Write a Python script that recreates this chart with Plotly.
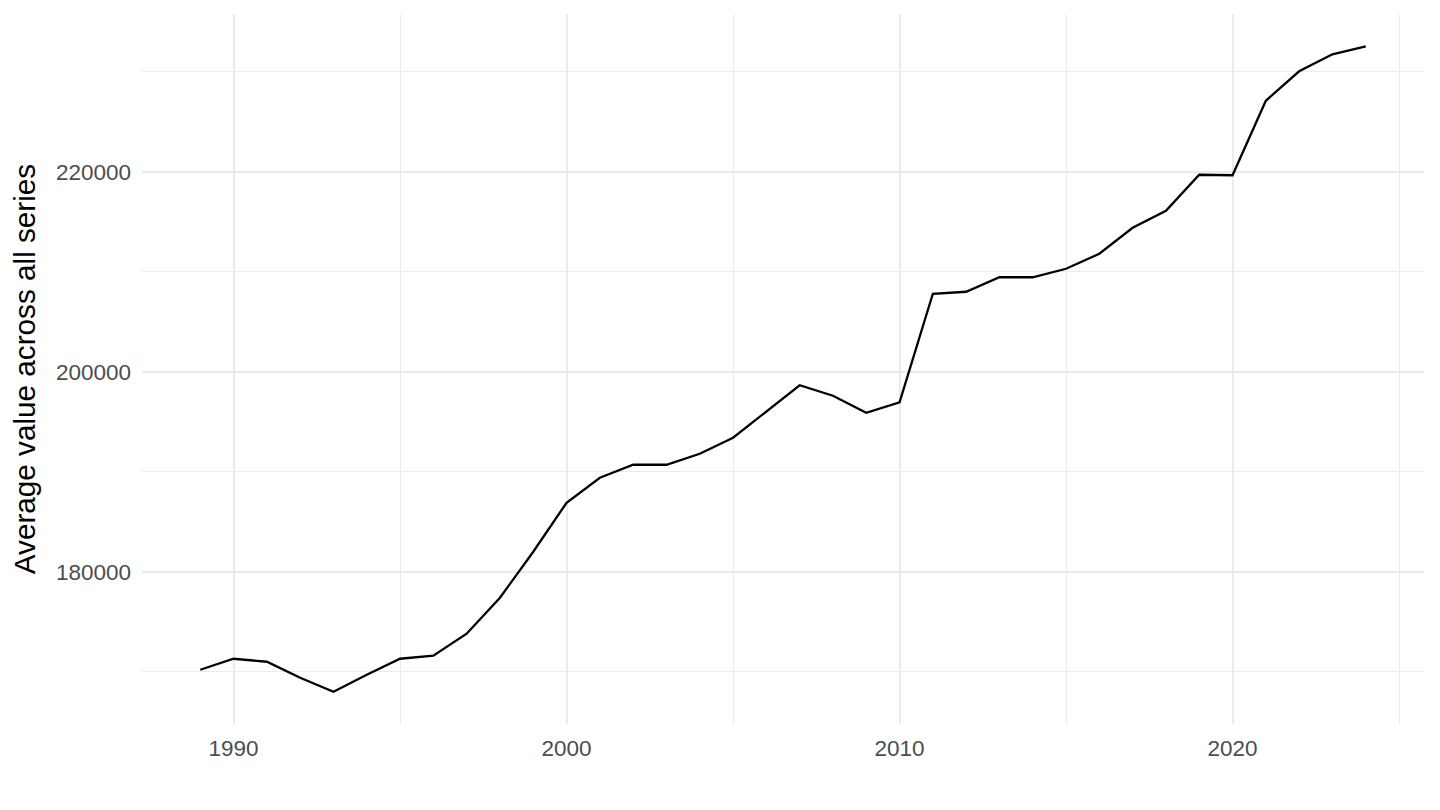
import plotly.graph_objects as go

# Average value across all series, by year
years = list(range(1989, 2025))
avg_value = [
    170200, 171300, 171000, 169400, 168000, 169700, 171300, 171600, 173800, 177400,
    182000, 186900, 189400, 190700, 190700, 191800, 193400, 196000, 198650, 197600,
    195900, 196950, 207800, 208000, 209450, 209450, 210300, 211800, 214400, 216100,
    219700, 219650, 227100, 230050, 231750, 232550,
]

x_major = [1990, 2000, 2010, 2020]
x_minor = [1995, 2005, 2015, 2025]
y_major = [180000, 200000, 220000]
y_minor = [170000, 190000, 210000, 230000]

# ggplot-style 5% expansion around the data
def expand(vals, mult=0.05):
    lo, hi = min(vals), max(vals)
    pad = (hi - lo) * mult
    return [lo - pad, hi + pad]

grid_col = "#EBEBEB"
font_fam = "Liberation Sans, Arial, sans-serif"

fig = go.Figure()
fig.add_trace(go.Scatter(
    x=years,
    y=avg_value,
    mode="lines",
    line=dict(color="black", width=2.3),
    showlegend=False,
))

# page body adds an 8px offset, so the figure is 16px smaller than the window
fig.update_layout(
    width=1424,
    height=794,
    paper_bgcolor="white",
    plot_bgcolor="white",
    margin=dict(l=134, r=8, t=6, b=78),
    font=dict(family=font_fam),
    xaxis=dict(
        range=expand(years),
        tickvals=x_major,
        ticktext=[str(v) for v in x_major],
        showgrid=True,
        gridcolor=grid_col,
        gridwidth=2,
        zeroline=False,
        showline=False,
        ticks="",
        ticklabelstandoff=8,
        tickfont=dict(size=22.5, color="#4D4D4D"),
        minor=dict(tickvals=x_minor, showgrid=True, gridcolor=grid_col, gridwidth=1),
    ),
    yaxis=dict(
        range=expand(avg_value),
        tickvals=y_major,
        ticktext=[str(v) for v in y_major],
        showgrid=True,
        gridcolor=grid_col,
        gridwidth=2,
        zeroline=False,
        showline=False,
        ticks="",
        ticklabelstandoff=10,
        tickfont=dict(size=22.5, color="#4D4D4D"),
        minor=dict(tickvals=y_minor, showgrid=True, gridcolor=grid_col, gridwidth=1),
        title=dict(
            text="Average value across all series",
            font=dict(size=29.7, color="black"),
            standoff=12,
        ),
    ),
)

fig.write_html("out.html")
